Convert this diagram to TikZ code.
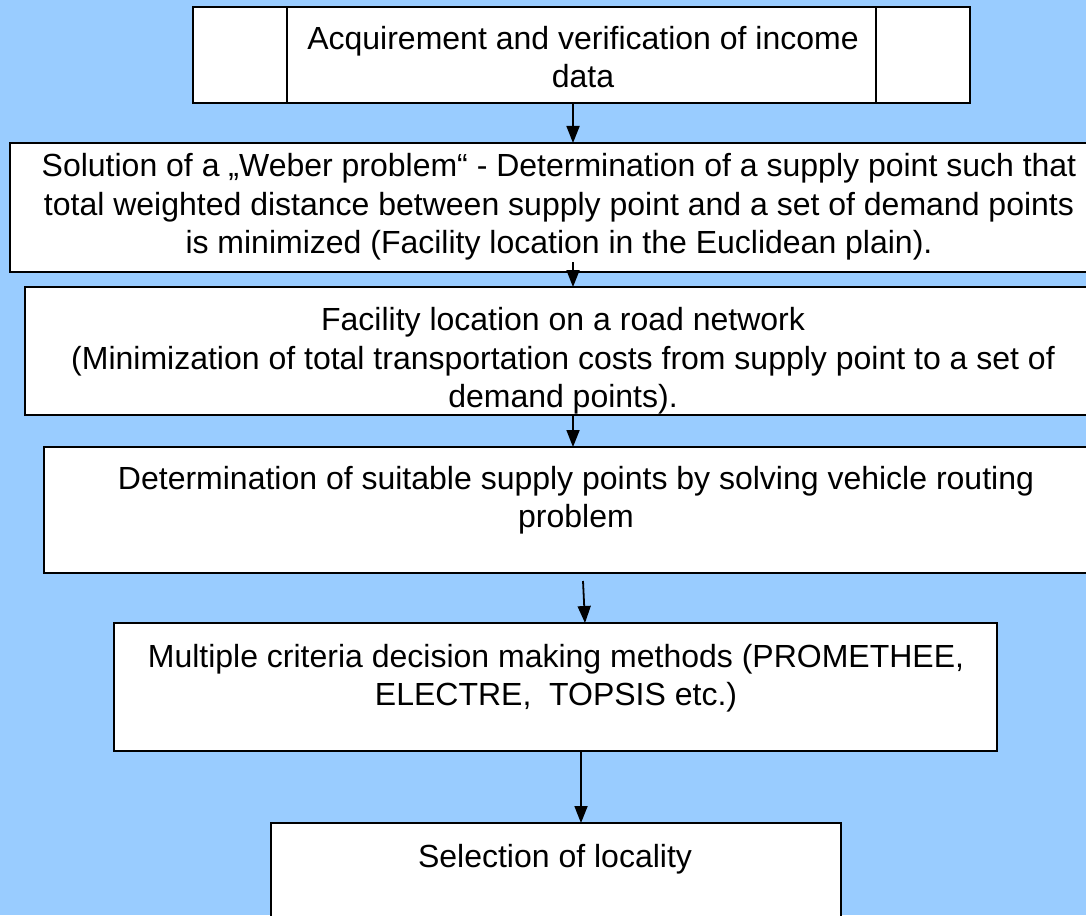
\documentclass[tikz,border=0pt]{standalone}
\usepackage{fontspec}
\setmainfont{Liberation Sans}
\usetikzlibrary{arrows.meta}
\definecolor{skyback}{RGB}{153,204,255}
\newcommand{\flowfont}{\fontsize{32}{38.5}\selectfont}
\begin{document}
\begin{tikzpicture}[x=1pt,y=-1pt,inner sep=0pt,outer sep=0pt,
flowbox/.style={draw,rectangle,fill=white,line width=2.2pt,anchor=north west},
flowtext/.style={align=center,font=\flowfont},
flowarrow/.style={-{Triangle[width=13pt,length=17pt]},line width=1.8pt}]
\clip (0,0) rectangle (1086,915);
\fill[skyback] (0,0) rectangle (1086,915);
% boxes
\node[flowbox,minimum width=777pt,minimum height=96pt] (b1) at (193,7) {};
\node[flowbox,minimum width=1100pt,minimum height=129pt] (b2) at (10,143) {};
\node[flowbox,minimum width=1100pt,minimum height=128pt] (b3) at (25,287) {};
\node[flowbox,minimum width=1100pt,minimum height=126pt] (b4) at (44,447) {};
\node[flowbox,minimum width=883pt,minimum height=128pt] (b5) at (114,623) {};
\node[flowbox,minimum width=570pt,minimum height=120pt] (b6) at (271,823) {};
\draw[line width=2.2pt] ([xshift=94pt]b1.north west) -- ([xshift=94pt]b1.south west);
\draw[line width=2.2pt] ([xshift=-94pt]b1.north east) -- ([xshift=-94pt]b1.south east);
% texts
\node[flowtext] (t1) at (583,57) {Acquirement and verification of income\\data};
\node[flowtext] (t2) at (559,207) {Solution of a „Weber problem“ - Determination of a supply point such that\\total weighted distance between supply point and a set of demand points\\is minimized (Facility location in the Euclidean plain).};
\node[flowtext] (t3) at (563,361) {Facility location on a road network\\(Minimization of total transportation costs from supply point to a set of\\demand points).};
\node[flowtext] (t4) at (576,500) {Determination of suitable supply points by solving vehicle routing\\problem};
\node[flowtext] (t5) at (556,678) {Multiple criteria decision making methods (PROMETHEE,\\ELECTRE,\ \ TOPSIS etc.)};
\node[flowtext] (t6) at (555,859) {Selection of locality};
% arrows
\coordinate (axis) at (573,0);
\coordinate (axisA) at (583,0);
\coordinate (axisB) at (585,0);
\coordinate (axisC) at (581,0);
\draw[flowarrow] (b1.south -| axis) -- (b2.north -| axis);
\draw[flowarrow] ([yshift=10pt]b2.south -| axis) -- (b3.north -| axis);
\draw[flowarrow] (b3.south -| axis) -- (b4.north -| axis);
\draw[flowarrow] ([yshift=-8pt]b4.south -| axisA) -- (b5.north -| axisB);
\draw[flowarrow] (b5.south -| axisC) -- (b6.north -| axisC);
\end{tikzpicture}
\end{document}
